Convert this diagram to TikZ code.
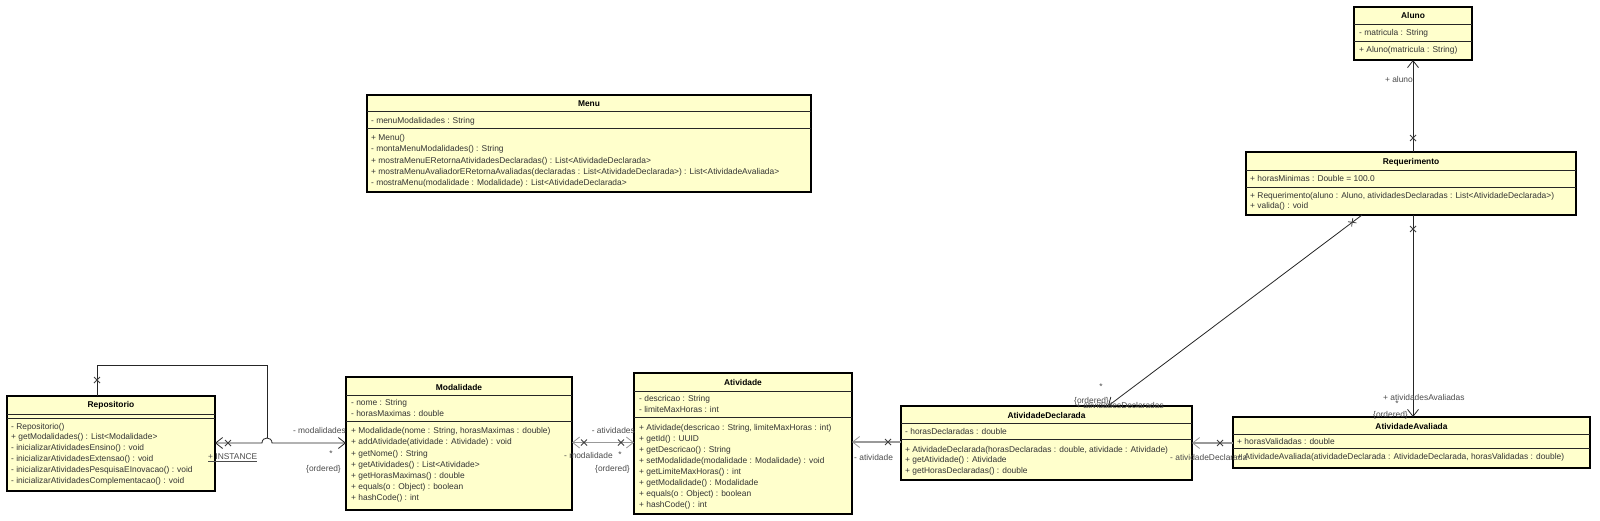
\documentclass[tikz,border=0pt]{standalone}
\usepackage{fontspec}
\setmainfont{Liberation Sans}
\usetikzlibrary{arrows.meta,calc}
\definecolor{clsfill}{HTML}{FFFFCC}
\tikzset{
  cls/.style={draw=black, line width=1.3pt, fill=clsfill, anchor=north west, inner sep=0pt, outer sep=0pt},
  sepl/.style={draw=black!85, line width=0.8pt},
  ttl/.style={font=\fontsize{8.4}{10}\selectfont\bfseries, text=black, inner sep=0pt, anchor=center, text height=6pt, text depth=1.8pt},
  txt/.style={font=\fontsize{8.4}{10}\selectfont, text=black!80, inner sep=0pt, anchor=west, text height=6pt, text depth=1.8pt},
  lbl/.style={font=\fontsize{8.4}{10}\selectfont, text=black!70, inner sep=0pt, text height=6pt, text depth=1.8pt},
  assoc/.style={draw=black!85, line width=0.8pt},
  gassoc/.style={draw=black!40, line width=1.6pt},
  xmark/.pic={\draw[line width=0.8pt, black!75] (-3,-3) -- (3,3) (-3,3) -- (3,-3);},
}
\begin{document}
\begin{tikzpicture}[x=1pt,y=-1pt,>={Straight Barb[length=7pt,width=11pt,line width=0.8pt]}]
\useasboundingbox (0,0) rectangle (1600,520);
\fill[white] (0,0) rectangle (1600,520);

% ---------- Aluno
\node[cls, minimum width=118pt, minimum height=53pt] (aluno) at (1354,7) {};
\node[ttl] (aluno-t) at (1413,16.5) {Aluno};
\draw[sepl] (1354,24.5) -- (1472,24.5);
\node[txt] (aluno-a1) at (1359,33) {- matricula : String};
\draw[sepl] (1354,41) -- (1472,41);
\node[txt] (aluno-m1) at (1359,50) {+ Aluno(matricula : String)};

% ---------- Requerimento
\node[cls, minimum width=330pt, minimum height=63pt] (req) at (1246,152) {};
\node[ttl] (req-t) at (1411,162) {Requerimento};
\draw[sepl] (1246,170) -- (1576,170);
\node[txt] (req-a1) at (1250,179) {+ horasMinimas : Double = 100.0};
\draw[sepl] (1246,187) -- (1576,187);
\node[txt] (req-m1) at (1250,196.5) {+ Requerimento(aluno : Aluno, atividadesDeclaradas : List<AtividadeDeclarada>)};
\node[txt] (req-m2) at (1250,206.5) {+ valida() : void};

% ---------- Menu
\node[cls, minimum width=444pt, minimum height=97pt] (menu) at (367,95) {};
\node[ttl] (menu-t) at (589,104) {Menu};
\draw[sepl] (367,111.5) -- (811,111.5);
\node[txt] (menu-a1) at (371,121) {- menuModalidades : String};
\draw[sepl] (367,128.5) -- (811,128.5);
\node[txt] (menu-m1) at (371,138) {+ Menu()};
\node[txt] (menu-m2) at (371,149.5) {- montaMenuModalidades() : String};
\node[txt] (menu-m3) at (371,161) {+ mostraMenuERetornaAtividadesDeclaradas() : List<AtividadeDeclarada>};
\node[txt] (menu-m4) at (371,172) {+ mostraMenuAvaliadorERetornaAvaliadas(declaradas : List<AtividadeDeclarada>) : List<AtividadeAvaliada>};
\node[txt] (menu-m5) at (371,183) {- mostraMenu(modalidade : Modalidade) : List<AtividadeDeclarada>};

% ---------- Repositorio
\node[cls, minimum width=208pt, minimum height=95pt] (rep) at (7,396) {};
\node[ttl] (rep-t) at (111,405.5) {Repositorio};
\draw[sepl] (7,414.5) -- (215,414.5);
\draw[sepl] (7,418.5) -- (215,418.5);
\node[txt] (rep-m1) at (11,427) {- Repositorio()};
\node[txt] (rep-m2) at (11,437.5) {+ getModalidades() : List<Modalidade>};
\node[txt] (rep-m3) at (11,448.5) {- inicializarAtividadesEnsino() : void};
\node[txt] (rep-m4) at (11,459.5) {- inicializarAtividadesExtensao() : void};
\node[txt] (rep-m5) at (11,470.5) {- inicializarAtividadesPesquisaEInovacao() : void};
\node[txt] (rep-m6) at (11,481.5) {- inicializarAtividadesComplementacao() : void};

% ---------- Modalidade
\node[cls, minimum width=226pt, minimum height=133pt] (mod) at (346,377) {};
\node[ttl] (mod-t) at (459,388) {Modalidade};
\draw[sepl] (346,395.5) -- (572,395.5);
\node[txt] (mod-a1) at (351,403.5) {- nome : String};
\node[txt] (mod-a2) at (351,414.5) {- horasMaximas : double};
\draw[sepl] (346,421) -- (572,421);
\node[txt] (mod-m1) at (351,431) {+ Modalidade(nome : String, horasMaximas : double)};
\node[txt] (mod-m2) at (351,442.5) {+ addAtividade(atividade : Atividade) : void};
\node[txt] (mod-m3) at (351,454) {+ getNome() : String};
\node[txt] (mod-m4) at (351,465) {+ getAtividades() : List<Atividade>};
\node[txt] (mod-m5) at (351,476) {+ getHorasMaximas() : double};
\node[txt] (mod-m6) at (351,487.5) {+ equals(o : Object) : boolean};
\node[txt] (mod-m7) at (351,498.5) {+ hashCode() : int};

% ---------- Atividade
\node[cls, minimum width=218pt, minimum height=141pt] (ati) at (634,373) {};
\node[ttl] (ati-t) at (743,383.5) {Atividade};
\draw[sepl] (634,391) -- (852,391);
\node[txt] (ati-a1) at (639,399.5) {- descricao : String};
\node[txt] (ati-a2) at (639,410) {- limiteMaxHoras : int};
\draw[sepl] (634,417) -- (852,417);
\node[txt] (ati-m1) at (639,428.5) {+ Atividade(descricao : String, limiteMaxHoras : int)};
\node[txt] (ati-m2) at (639,439.5) {+ getId() : UUID};
\node[txt] (ati-m3) at (639,450.5) {+ getDescricao() : String};
\node[txt] (ati-m4) at (639,461.5) {+ setModalidade(modalidade : Modalidade) : void};
\node[txt] (ati-m5) at (639,472.5) {+ getLimiteMaxHoras() : int};
\node[txt] (ati-m6) at (639,483.5) {+ getModalidade() : Modalidade};
\node[txt] (ati-m7) at (639,494.5) {+ equals(o : Object) : boolean};
\node[txt] (ati-m8) at (639,505) {+ hashCode() : int};

% ---------- AtividadeDeclarada
\node[cls, minimum width=291pt, minimum height=74pt] (ad) at (901,406) {};
\node[ttl] (ad-t) at (1046.5,416) {AtividadeDeclarada};
\draw[sepl] (901,423.5) -- (1192,423.5);
\node[txt] (ad-a1) at (905,432) {- horasDeclaradas : double};
\draw[sepl] (901,439.5) -- (1192,439.5);
\node[txt] (ad-m1) at (905,450) {+ AtividadeDeclarada(horasDeclaradas : double, atividade : Atividade)};
\node[txt] (ad-m2) at (905,460.5) {+ getAtividade() : Atividade};
\node[txt] (ad-m3) at (905,471) {+ getHorasDeclaradas() : double};

% ---------- AtividadeAvaliada
\node[cls, minimum width=357pt, minimum height=51pt] (aa) at (1233,417) {};
\node[ttl] (aa-t) at (1411.5,427) {AtividadeAvaliada};
\draw[sepl] (1233,434.5) -- (1590,434.5);
\node[txt] (aa-a1) at (1237,442) {+ horasValidadas : double};
\draw[sepl] (1233,448.5) -- (1590,448.5);
\node[txt] (aa-m1) at (1237,457) {+ AtividadeAvaliada(atividadeDeclarada : AtividadeDeclarada, horasValidadas : double)};

% ---------- connectors
\draw[assoc,->] (req.north -| 1413,0) -- (aluno.south -| 1413,0);
\pic at (1413,138) {xmark};
\draw[assoc,->] (req.south -| 1413,0) -- (aa.north -| 1413,0);
\pic at (1413,229) {xmark};
\draw[assoc,->] (req.south -| 1362,0) -- (ad.north -| 1108,0);
\pic[rotate=37] at (1352.2,222.3) {xmark};

\draw[assoc] (rep.north -| 97,0) -- (97,365) -- (267,365) -- (267,437.5);
\pic at (97,380) {xmark};
\draw[assoc,<->] (rep.east |- 0,443) -- (262,443) .. controls (262,436.3) and (272,436.3) .. (272,443) -- (mod.west |- 0,443);
\pic at (228,443) {xmark};

\draw[gassoc,<->] (mod.east |- 0,442.5) -- (ati.west |- 0,442.5);
\pic at (584,442.5) {xmark};
\pic at (621,442.5) {xmark};

\draw[gassoc,->] (ad.west |- 0,442) -- (ati.east |- 0,442);
\pic at (888,442) {xmark};

\draw[gassoc,->] (aa.west |- 0,443) -- (ad.east |- 0,443);
\pic at (1220,443) {xmark};

% ---------- labels
\node[lbl, anchor=east] (l-aluno) at (1413,80) {+ aluno};
\node[lbl, anchor=west] (l-aval) at (1383,398) {+ atividadesAvaliadas};
\node[lbl] (l-aval-m) at (1397,404) {*};
\node[lbl, anchor=west] (l-aval-o) at (1373,415) {\{ordered\}};
\node[lbl] (l-decl-m) at (1101,387) {*};
\node[lbl, anchor=west] (l-decl-o) at (1074,401) {\{ordered\}};
\node[lbl, anchor=west] (l-decl) at (1076,406) {+ atividadesDeclaradas};

\node[lbl, anchor=east] (l-mods) at (346,431) {- modalidades};
\node[lbl] (l-mods-m) at (331,454) {*};
\node[lbl, anchor=west] (l-mods-o) at (306,469) {\{ordered\}};
\node[lbl, anchor=west] (l-inst) at (208,457.5) {\underline{+ INSTANCE}};

\node[lbl, anchor=east] (l-ativs) at (635,431) {- atividades};
\node[lbl, anchor=west] (l-modal) at (564,456.5) {- modalidade};
\node[lbl] (l-ativs-m) at (620,455.5) {*};
\node[lbl, anchor=west] (l-ativs-o) at (595,469) {\{ordered\}};

\node[lbl, anchor=west] (l-ativ) at (854,458) {- atividade};
\node[lbl, anchor=west] (l-ad) at (1170,458) {- atividadeDeclarada};
\end{tikzpicture}
\end{document}
